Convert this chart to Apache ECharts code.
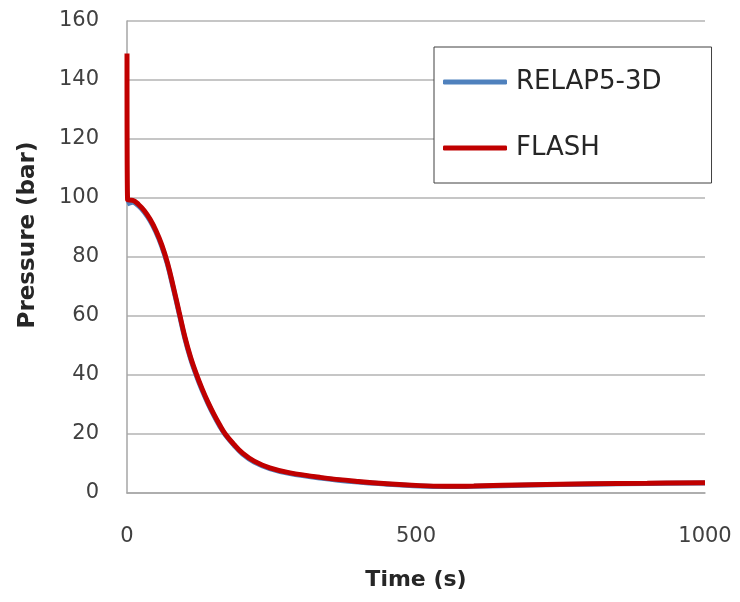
<!DOCTYPE html>
<html>
<head>
<meta charset="utf-8">
<script src="https://cdn.jsdelivr.net/npm/echarts@6/dist/echarts.min.js"></script>
<style>
  html, body { margin: 0; padding: 0; background: #fff; }
  #main { width: 740px; height: 602px; }
</style>
</head>
<body>
<div id="main"></div>
<script>
// time (s) and pressure (bar)
var times = [0, 1, 10, 20, 30, 40, 50, 60, 70, 80, 90, 100, 110, 120, 130, 140, 150, 160, 170, 185, 200, 220, 247, 280, 334, 400, 450, 507, 550, 600, 700, 800, 900, 1000];
var flash = [149, 99.4, 99.2, 97.8, 95.7, 92.8, 89, 84.2, 78, 70, 61.5, 53, 46, 40.3, 35.3, 30.8, 26.8, 23.2, 20, 16.5, 13.5, 10.8, 8.5, 6.9, 5.3, 3.9, 3.1, 2.5, 2.3, 2.4, 2.8, 3.1, 3.3, 3.5];
var relap = [98, 98, 98.6, 97.3, 95.2, 92.3, 88.5, 83.7, 77.5, 69.5, 61, 52.5, 45.5, 39.8, 34.8, 30.4, 26.4, 22.8, 19.7, 16.2, 13.2, 10.5, 8.3, 6.7, 5.1, 3.7, 3.0, 2.4, 2.2, 2.3, 2.7, 3.0, 3.2, 3.4];
var yTicks = [0, 20, 40, 60, 80, 100, 120, 140, 160];
var xTicks = [0, 500, 1000];

function pairs(xs, ys) {
  return xs.map(function (t, i) { return [t, ys[i]]; });
}

var chart = echarts.init(document.getElementById('main'));
var font = '"DejaVu Sans", sans-serif';

chart.setOption({
  animation: false,
  grid: { left: 127, right: 35, top: 21, bottom: 109 },
  legend: {
    orient: 'vertical',
    left: 434,
    top: 47,
    data: ['RELAP5-3D', 'FLASH'],
    icon: 'roundRect',
    itemWidth: 64,
    itemHeight: 5,
    itemGap: 40,
    padding: [22, 50, 22, 9],
    backgroundColor: '#fff',
    borderColor: '#404040',
    borderWidth: 1,
    borderRadius: 0,
    textStyle: { fontFamily: font, fontSize: 26, color: '#262626', padding: [0, 0, 0, 4] }
  },
  xAxis: {
    type: 'value',
    min: xTicks[0],
    max: xTicks[xTicks.length - 1],
    interval: 500,
    name: 'Time (s)',
    nameLocation: 'middle',
    nameGap: 76,
    nameTextStyle: { fontFamily: font, fontSize: 22, fontWeight: 'bold', color: '#262626' },
    axisLine: { lineStyle: { color: '#a6a6a6', width: 1.5 } },
    axisTick: { show: false },
    splitLine: { show: false },
    axisLabel: { fontFamily: font, fontSize: 21, color: '#404040', margin: 33, formatter: function (v) { return String(v); } }
  },
  yAxis: {
    type: 'value',
    min: yTicks[0],
    max: yTicks[yTicks.length - 1],
    interval: 20,
    axisLine: { show: true, lineStyle: { color: '#a6a6a6', width: 1.5 } },
    axisTick: { show: false },
    splitLine: { lineStyle: { color: '#b3b3b3', width: 1.5 } },
    axisLabel: { fontFamily: font, fontSize: 21, color: '#404040', margin: 28 }
  },
  graphic: [{
    type: 'text',
    x: 28,
    y: 235,
    rotation: Math.PI / 2,
    style: {
      text: 'Pressure (bar)',
      font: 'bold 23px ' + font,
      fill: '#262626',
      align: 'center',
      verticalAlign: 'middle'
    }
  }],
  series: [{
    name: 'RELAP5-3D',
    type: 'line',
    data: pairs(times, relap),
    symbol: 'none',
    smooth: 0.4,
    itemStyle: { color: '#4f81bd' },
    lineStyle: { color: '#4f81bd', width: 5 },
    z: 2
  }, {
    name: 'FLASH',
    type: 'line',
    data: pairs(times, flash),
    symbol: 'none',
    smooth: 0.4,
    itemStyle: { color: '#c00000' },
    lineStyle: { color: '#c00000', width: 5 },
    z: 3
  }]
});
</script>
</body>
</html>
